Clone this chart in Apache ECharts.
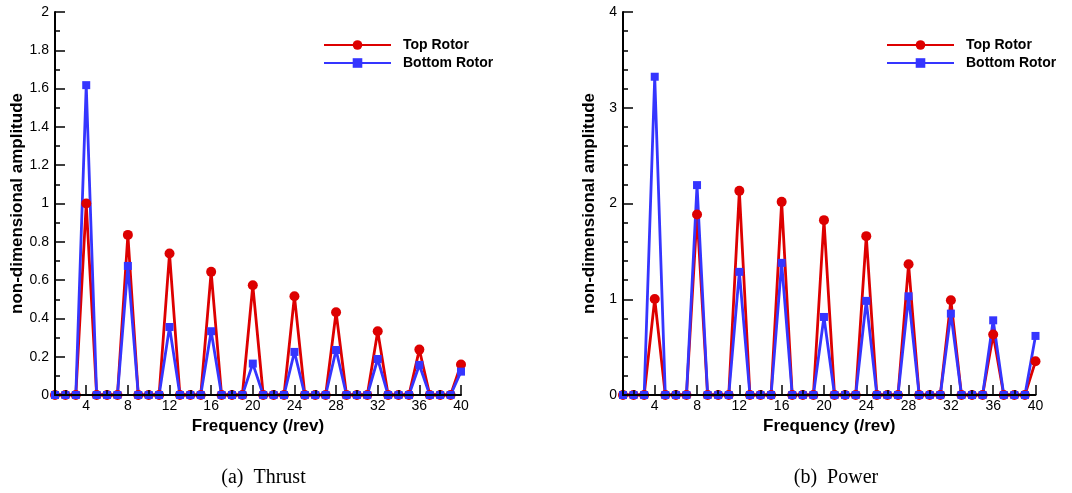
<!DOCTYPE html>
<html>
<head>
<meta charset="utf-8">
<script src="https://cdn.jsdelivr.net/npm/echarts@6/dist/echarts.min.js"></script>
<style>
html,body{margin:0;padding:0;background:#fff;}
#chart{width:1072px;height:493px;}
</style>
</head>
<body>
<div id="chart"></div>
<script>
// ---- data ----
const freq = [1,2,3,4,5,6,7,8,9,10,11,12,13,14,15,16,17,18,19,20,21,22,23,24,25,26,27,28,29,30,31,32,33,34,35,36,37,38,39,40];
const thrustTop    = [0,0,0,1.000,0,0,0,0.836,0,0,0,0.739,0,0,0,0.643,0,0,0,0.573,0,0,0,0.516,0,0,0,0.432,0,0,0,0.333,0,0,0,0.237,0,0,0,0.159];
const thrustBottom = [0,0,0,1.618,0,0,0,0.674,0,0,0,0.355,0,0,0,0.333,0,0,0,0.164,0,0,0,0.225,0,0,0,0.235,0,0,0,0.188,0,0,0,0.157,0,0,0,0.122];
const powerTop     = [0,0,0,1.003,0,0,0,1.885,0,0,0,2.132,0,0,0,2.017,0,0,0,1.826,0,0,0,1.659,0,0,0,1.366,0,0,0,0.990,0,0,0,0.631,0,0,0,0.352];
const powerBottom  = [0,0,0,3.324,0,0,0,2.192,0,0,0,1.286,0,0,0,1.380,0,0,0,0.815,0,0,0,0.983,0,0,0,1.031,0,0,0,0.850,0,0,0,0.780,0,0,0,0.617];
const majorTicks = [4,8,12,16,20,24,28,32,36,40];
const minorTicks = [2,6,10,14,18,22,26,30,34,38];
const seriesNames = ['Top Rotor','Bottom Rotor'];
const xTitle = 'Frequency (/rev)';
const yTitle = 'non-dimensional amplitude';
const captions = ['(a)  Thrust','(b)  Power'];

const RED = '#dd0000', BLUE = '#3535ff';
const FONT = "'Liberation Sans', Arial, sans-serif";

function pairs(xs, ys){ return xs.map((x,i)=>[x, ys[i]]); }

const grids = [
  {left:55, top:12, width:406, height:383},
  {left:623, top:12, width:412.5, height:383}
];

function mainX(gi){
  return {
    type:'value', gridIndex:gi, min:1, max:40, position:'bottom', z:10,
    axisLine:{show:true, onZero:false, lineStyle:{color:'#000', width:2}},
    axisTick:{show:true, inside:true, length:10, customValues:majorTicks, lineStyle:{color:'#000', width:1.5}},
    axisLabel:{show:true, customValues:majorTicks, margin:4, color:'#000', fontSize:14, fontFamily:FONT},
    splitLine:{show:false},
    name:xTitle, nameLocation:'middle', nameGap:16,
    nameTextStyle:{color:'#000', fontSize:17, fontWeight:'bold', fontFamily:FONT}
  };
}
function minorX(gi){
  return {
    type:'value', gridIndex:gi, min:1, max:40, position:'bottom', offset:0, z:10,
    axisLine:{show:false, onZero:false},
    axisTick:{show:true, inside:true, length:5, customValues:minorTicks, lineStyle:{color:'#000', width:1.5}},
    axisLabel:{show:false},
    splitLine:{show:false}
  };
}
function yAx(gi, max, interval, minorSplit){
  return {
    type:'value', gridIndex:gi, min:0, max:max, interval:interval, z:10,
    axisLine:{show:true, onZero:false, lineStyle:{color:'#000', width:2}},
    axisTick:{show:true, inside:true, length:10, lineStyle:{color:'#000', width:1.5}},
    minorTick:{show:true, splitNumber:minorSplit, length:5, lineStyle:{color:'#000', width:1.5}},
    axisLabel:{margin:6, color:'#000', fontSize:14, fontFamily:FONT},
    splitLine:{show:false}, minorSplitLine:{show:false},
    name:yTitle, nameLocation:'middle', nameGap:25,
    nameTextStyle:{color:'#000', fontSize:17, fontWeight:'bold', fontFamily:FONT}
  };
}
function lineSeries(name, xi, yi, data, color, symbol, size){
  return {
    name:name, type:'line', xAxisIndex:xi, yAxisIndex:yi, data:data,
    symbol:symbol, symbolSize:size, showSymbol:true,
    lineStyle:{color:color, width:2.8}, itemStyle:{color:color},
    emphasis:{disabled:true}, animation:false, z:3
  };
}
function legendAt(left){
  return {
    orient:'vertical', left:left, top:33, itemWidth:67, itemHeight:12, itemGap:4,
    data:seriesNames, selectedMode:false,
    textStyle:{color:'#000', fontSize:14, fontWeight:'bold', fontFamily:FONT, padding:[0,0,0,7]}
  };
}

const chart = echarts.init(document.getElementById('chart'), null, {renderer:'canvas'});
chart.setOption({
  backgroundColor:'#fff',
  animation:false,
  grid:grids,
  xAxis:[mainX(0), minorX(0), mainX(1), minorX(1)],
  yAxis:[yAx(0, 2, 0.2, 2), yAx(1, 4, 1, 5)],
  legend:[legendAt(318), legendAt(881)],
  series:[
    lineSeries(seriesNames[0], 0, 0, pairs(freq, thrustTop), RED, 'circle', 10),
    lineSeries(seriesNames[1], 0, 0, pairs(freq, thrustBottom), BLUE, 'rect', 8),
    lineSeries(seriesNames[0], 2, 1, pairs(freq, powerTop), RED, 'circle', 10),
    lineSeries(seriesNames[1], 2, 1, pairs(freq, powerBottom), BLUE, 'rect', 8)
  ],
  graphic:[
    {type:'text', x:263.5, y:478, style:{text:captions[0], align:'center', verticalAlign:'middle', font:"20px 'Liberation Serif', 'Times New Roman', serif", fill:'#000'}},
    {type:'text', x:836, y:478, style:{text:captions[1], align:'center', verticalAlign:'middle', font:"20px 'Liberation Serif', 'Times New Roman', serif", fill:'#000'}}
  ]
});
</script>
</body>
</html>
